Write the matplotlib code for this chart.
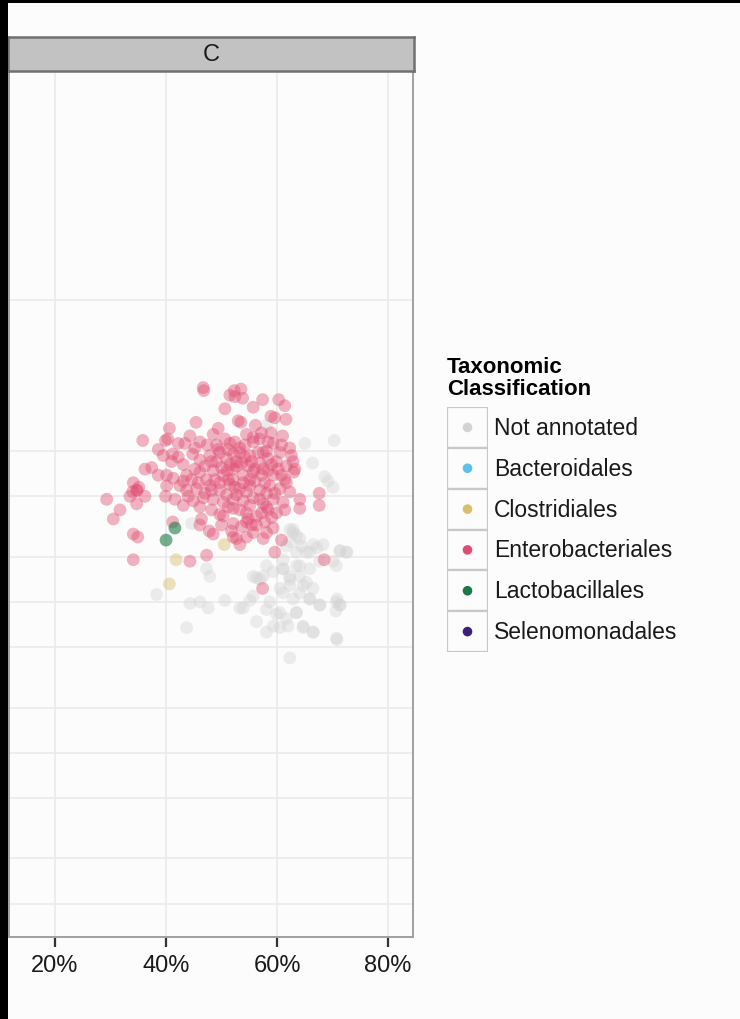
import matplotlib.pyplot as plt
import numpy as np
from matplotlib.patches import Rectangle

plt.rcParams['font.family'] = ['Liberation Sans', 'DejaVu Sans']

# GC content (%) vs log10 depth, one list of (x, y) pairs per order
enterobacteriales = [
    (46.7, 3.42), (46.8, 3.40), (51.5, 3.37), (52.3, 3.40), (53.5, 3.41), (53.8, 3.35),
    (52.4, 3.36), (50.6, 3.28), (55.7, 3.29), (57.4, 3.34), (60.3, 3.34), (61.4, 3.30),
    (45.4, 3.19), (53.0, 3.20), (53.5, 3.19), (56.1, 3.17), (58.9, 3.23), (61.6, 3.21),
    (59.6, 3.22), (40.6, 3.15), (40.3, 3.08), (48.5, 3.11), (54.5, 3.11), (55.7, 3.09),
    (56.9, 3.08), (61.0, 3.10), (58.9, 3.12), (35.8, 3.07), (39.9, 3.07), (43.4, 3.05),
    (46.1, 3.06), (47.4, 3.04), (49.1, 3.04), (51.5, 3.05), (53.3, 3.02), (55.7, 3.06),
    (57.5, 2.99), (58.1, 3.00), (59.3, 3.05), (60.8, 3.04), (62.3, 3.02), (60.5, 2.99),
    (41.2, 2.98), (44.8, 2.98), (47.9, 2.97), (49.7, 2.99), (52.1, 2.98), (53.3, 2.99),
    (55.1, 2.97), (56.6, 2.99), (62.6, 2.97), (62.9, 2.93), (59.9, 2.93), (52.7, 2.93),
    (51.5, 2.91), (49.1, 2.93), (46.1, 2.94), (41.0, 2.93), (43.1, 2.91), (36.2, 2.88),
    (38.6, 2.84), (40.1, 2.84), (41.3, 2.82), (43.7, 2.84), (46.1, 2.86), (48.5, 2.87),
    (50.3, 2.84), (52.1, 2.88), (53.9, 2.84), (55.7, 2.86), (57.5, 2.88), (59.3, 2.84),
    (61.4, 2.81), (63.2, 2.88), (63.0, 2.86), (47.3, 2.81), (52.1, 2.81), (55.1, 2.81),
    (34.1, 2.79), (34.7, 2.74), (34.0, 2.73), (35.1, 2.76), (34.8, 2.74), (40.1, 2.77),
    (43.1, 2.80), (43.7, 2.74), (45.5, 2.75), (47.9, 2.77), (49.7, 2.74), (51.5, 2.78),
    (53.3, 2.75), (55.1, 2.77), (56.9, 2.74), (58.7, 2.77), (60.5, 2.75), (61.7, 2.79),
    (62.3, 2.73), (29.3, 2.68), (31.7, 2.61), (30.5, 2.55), (33.5, 2.70), (36.2, 2.70),
    (34.7, 2.65), (39.9, 2.70), (41.6, 2.68), (43.1, 2.64), (44.9, 2.67), (46.7, 2.69),
    (48.5, 2.68), (50.3, 2.66), (52.1, 2.68), (53.9, 2.67), (55.7, 2.69), (57.5, 2.65),
    (59.3, 2.68), (61.1, 2.66), (64.1, 2.68), (67.6, 2.72), (67.6, 2.64), (64.1, 2.62),
    (46.1, 2.63), (48.2, 2.61), (49.7, 2.58), (52.1, 2.62), (54.5, 2.59), (56.3, 2.57),
    (58.1, 2.63), (59.9, 2.59), (54.8, 2.55), (41.2, 2.53), (46.4, 2.55), (47.8, 2.47),
    (48.5, 2.45), (52.1, 2.52), (54.5, 2.53), (56.3, 2.51), (57.8, 2.53), (59.3, 2.49),
    (46.1, 2.51), (34.1, 2.45), (34.9, 2.43), (52.1, 2.43), (52.7, 2.42), (54.5, 2.43),
    (57.5, 2.42), (60.8, 2.41), (53.3, 2.38), (34.1, 2.28), (44.3, 2.27), (47.3, 2.31),
    (59.6, 2.33), (68.5, 2.28), (57.4, 2.09),
    (49.4, 3.01), (50.9, 2.95), (51.2, 3.01), (50.0, 2.89), (51.0, 2.87), (52.7, 2.90),
    (53.6, 2.92), (54.2, 2.96), (54.8, 2.90), (55.4, 2.93), (56.0, 2.88), (56.9, 2.92),
    (57.2, 2.84), (58.4, 2.87), (58.4, 2.95), (59.0, 2.91), (60.2, 2.88), (60.8, 2.84),
    (61.7, 2.90), (48.8, 2.81), (49.7, 2.79), (51.2, 2.81), (52.4, 2.76), (53.9, 2.79),
    (54.5, 2.73), (56.0, 2.80), (57.8, 2.79), (58.1, 2.72), (59.6, 2.72), (47.0, 2.72),
    (48.2, 2.74), (50.9, 2.71), (52.7, 2.71), (55.1, 2.64), (56.9, 2.68), (58.4, 2.61),
    (51.2, 2.63), (53.3, 2.61), (50.3, 2.57), (57.2, 2.59), (55.4, 2.51), (53.6, 2.50),
    (45.2, 2.88), (44.6, 2.81), (45.8, 2.79), (44.0, 2.70), (42.5, 2.77), (47.0, 2.90),
    (48.2, 2.93), (45.2, 3.02), (50.6, 3.08), (52.4, 3.06), (54.2, 3.04), (58.4, 3.06),
    (57.2, 3.12), (49.4, 3.15), (44.3, 3.10), (42.2, 2.96), (39.5, 2.97), (37.4, 2.89),
    (38.6, 3.01), (42.2, 3.05), (59.0, 2.56), (61.4, 2.61), (50.0, 2.51), (51.8, 2.47),
    (55.7, 2.46), (58.1, 2.46),
]

not_annotated = [
    (58.1, 3.17), (65.0, 3.05), (70.3, 3.07), (66.4, 2.92), (68.6, 2.83), (69.2, 2.80),
    (70.1, 2.76), (44.6, 2.52), (62.3, 2.48), (62.9, 2.46), (64.1, 2.42), (61.7, 2.37),
    (63.5, 2.33), (65.3, 2.33), (66.5, 2.38), (71.3, 2.34), (72.5, 2.33), (67.7, 2.27),
    (70.7, 2.24), (55.7, 2.17), (56.9, 2.15), (58.1, 2.24), (59.3, 2.20), (61.1, 2.22),
    (62.3, 2.17), (64.1, 2.24), (65.3, 2.13), (66.5, 2.09), (62.3, 2.11), (61.1, 2.06),
    (64.1, 2.06), (65.9, 2.02), (67.7, 1.98), (70.7, 2.00), (71.3, 1.98), (70.6, 1.94),
    (53.3, 1.96), (55.1, 2.01), (58.1, 1.95), (59.9, 1.92), (61.7, 1.89), (63.5, 1.93),
    (64.7, 1.83), (66.5, 1.80), (60.5, 1.83), (58.1, 1.80), (56.3, 1.87), (47.3, 2.22),
    (47.9, 2.17), (46.1, 2.00), (44.3, 1.99), (47.6, 1.96), (38.3, 2.05), (43.7, 1.83),
    (70.7, 1.76), (62.3, 1.63), (50.6, 2.01),
    (62.9, 2.48), (63.5, 2.44), (62.3, 2.40), (64.4, 2.37), (65.9, 2.33), (67.2, 2.36),
    (61.1, 2.28), (63.5, 2.24), (65.9, 2.22), (61.1, 2.22), (64.1, 2.17), (62.3, 2.15),
    (56.3, 2.16), (57.5, 2.17), (60.5, 2.09), (64.7, 2.11), (58.7, 2.00), (62.9, 2.02),
    (65.9, 2.02), (70.8, 2.02), (71.4, 1.98), (60.5, 1.93), (63.5, 1.93), (67.7, 1.98),
    (53.9, 1.96), (55.7, 2.04), (59.3, 1.84), (62.0, 1.84), (64.7, 1.84), (66.5, 1.80),
    (70.8, 1.75), (71.4, 2.34), (72.6, 2.33), (68.3, 2.38), (70.1, 2.27),
]

clostridiales = [(41.8, 2.28), (40.6, 2.12), (50.5, 2.38)]
lactobacillales = [(40.0, 2.41), (41.6, 2.49)]
bacteroidales = []
selenomonadales = []

orders = ['Not annotated', 'Bacteroidales', 'Clostridiales',
          'Enterobacteriales', 'Lactobacillales', 'Selenomonadales']
colors = ['#D3D3D3', '#5BC0EB', '#D9BE6C', '#E04C71', '#1A7A46', '#3B1F7A']
alphas = [0.4, 0.45, 0.45, 0.42, 0.6, 0.45]
points = [not_annotated, bacteroidales, clostridiales,
          enterobacteriales, lactobacillales, selenomonadales]

x_ticks = [20, 40, 60, 80]
y_grid = np.log10([1, 2, 5, 10, 20, 50, 100, 200, 500, 1000, 10000])

bg = '#FCFCFC'
W, H = 740, 1020
fig = plt.figure(figsize=(W / 100, H / 100), dpi=100, facecolor=bg)

# black edges of the cropped screenshot
fig.patches.append(Rectangle((0, 0), 8 / W, 1, transform=fig.transFigure, fc='black', ec='none'))
fig.patches.append(Rectangle((0, 1 - 4 / H), 1, 4 / H, transform=fig.transFigure, fc='black', ec='none'))

ax = fig.add_axes([9 / W, 82 / H, 404 / W, 866 / H])
ax.set_facecolor(bg)
ax.set_xlim(11.7, 84.5)
ax.set_ylim(-0.219, 5.517)
for v in x_ticks:
    ax.axvline(v, color='#EBEBEB', lw=1.2, zorder=0)
for v in y_grid:
    ax.axhline(v, color='#EBEBEB', lw=1.2, zorder=0)

for pts, c, a in zip(points, colors, alphas):
    if not pts:
        continue
    arr = np.array(pts)
    ax.scatter(arr[:, 0], arr[:, 1], s=85, color=c, alpha=a, edgecolors='none', zorder=2)

ax.set_xticks(x_ticks)
ax.set_xticklabels([f'{v}%' for v in x_ticks], fontsize=17, color='#1A1A1A')
ax.tick_params(axis='x', length=7, width=1.6, color='#333333', pad=5)
ax.set_yticks([])
for sp in ax.spines.values():
    sp.set_color('#A0A0A0')
    sp.set_linewidth(1.4)

# facet strip
sax = fig.add_axes([8 / W, (H - 72) / H, 406 / W, 34 / H])
sax.set_facecolor('#C2C2C2')
sax.set_xticks([])
sax.set_yticks([])
for sp in sax.spines.values():
    sp.set_color('#707070')
    sp.set_linewidth(1.8)
sax.text(0.5, 0.5, 'C', ha='center', va='center', fontsize=17, color='#1A1A1A',
         transform=sax.transAxes)

# legend
fig.text(447 / W, 1 - 357 / H, 'Taxonomic\nClassification', ha='left', va='top',
         fontsize=16, fontweight='bold', color='black', linespacing=1.05)
lax = fig.add_axes([447 / W, (H - 653) / H, 41 / W, 245 / H])
lax.set_xlim(0, 1)
lax.set_ylim(len(orders), 0)
lax.axis('off')
for i, (name, c) in enumerate(zip(orders, colors)):
    lax.add_patch(Rectangle((0, i), 1, 1, fc=bg, ec='#C8C8C8', lw=1.6))
    lax.scatter([0.5], [i + 0.5], s=48, color=c, edgecolors='none', zorder=3)
    lax.text(1.15, i + 0.5, name, ha='left', va='center', fontsize=16.5, color='#1A1A1A',
             clip_on=False)

fig.savefig('out.png', dpi=100, facecolor=bg)
